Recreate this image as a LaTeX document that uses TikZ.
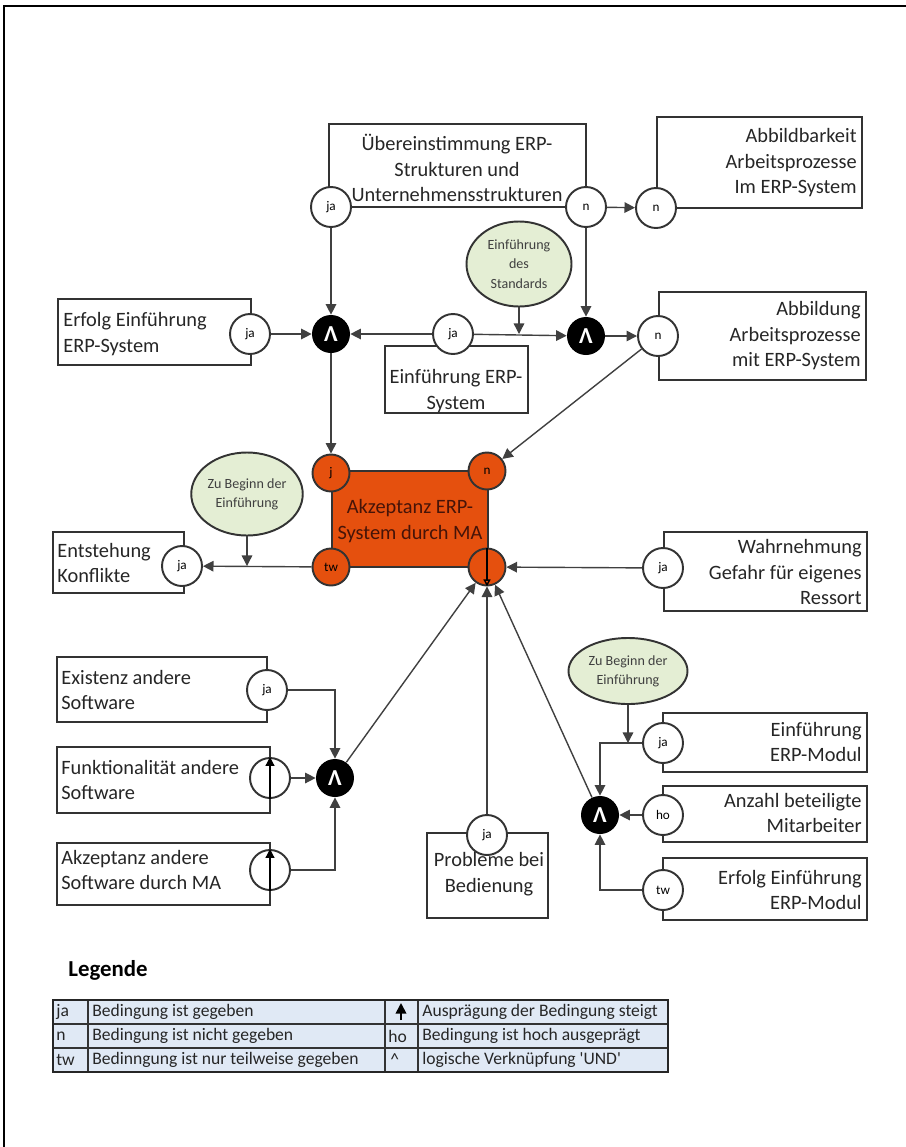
\documentclass[tikz,border=0pt]{standalone}
\usepackage{fontspec}
\setmainfont{Carlito}
\usetikzlibrary{arrows.meta,positioning,shapes.geometric}

\definecolor{akzorange}{RGB}{229,80,14}
\definecolor{akztext}{RGB}{70,20,8}
\definecolor{condgreen}{RGB}{228,238,212}
\definecolor{legblue}{RGB}{224,233,245}

\tikzset{
  cbox/.style={draw=black!80, line width=1.2pt, inner sep=0pt},
  btext/.style={font=\fontsize{11.6}{14.5}\selectfont, inner sep=0pt, text=black!85},
  state/.style={circle, draw=black!80, line width=1.1pt, fill=white, minimum size=0.8cm, inner sep=0pt, font=\fontsize{7.5}{8}\selectfont},
  redstate/.style={state, fill=akzorange, minimum size=0.74cm},
  andnode/.style={circle, fill=black, minimum size=0.76cm, inner sep=0pt, text=white, font=\fontsize{13}{13}\selectfont\bfseries},
  cond/.style={ellipse, draw=black!80, line width=1.1pt, fill=condgreen, inner sep=0pt, font=\fontsize{8}{11}\selectfont, align=center, text=black!75},
  conn/.style={line width=0.8pt, draw=black!75, -{Triangle[length=6pt,width=6pt]}},
  legtext/.style={font=\fontsize{10}{11}\selectfont, inner sep=0pt, anchor=west, text=black!85},
}

\begin{document}
\begin{tikzpicture}[x=0.02cm, y=-0.02cm]
\useasboundingbox (0,0) rectangle (906,1147);
\draw[line width=1pt] (4,1147) -- (4,6) -- (906,6);

% Bedingungen (Kaesten)
\node[cbox, minimum width=257*0.02cm, minimum height=83*0.02cm] (uebr) at (457.5,165.5) {};
\node[cbox, minimum width=205*0.02cm, minimum height=91*0.02cm] (abbk) at (759.5,162.5) {};
\node[cbox, minimum width=193*0.02cm, minimum height=66*0.02cm] (erfs) at (154.5,332) {};
\node[cbox, minimum width=143*0.02cm, minimum height=67*0.02cm] (einf) at (456.5,379.5) {};
\node[cbox, minimum width=207*0.02cm, minimum height=88*0.02cm] (abbi) at (762.5,336) {};
\node[cbox, minimum width=131*0.02cm, minimum height=61*0.02cm] (konf) at (118.5,562.5) {};
\node[cbox, minimum width=203*0.02cm, minimum height=79*0.02cm] (gefa) at (765.5,571.5) {};
\node[cbox, minimum width=210*0.02cm, minimum height=65*0.02cm] (exis) at (162,689.5) {};
\node[cbox, minimum width=213*0.02cm, minimum height=66*0.02cm] (funk) at (163.5,780) {};
\node[cbox, minimum width=213*0.02cm, minimum height=62*0.02cm] (akzs) at (163.5,874) {};
\node[cbox, minimum width=121*0.02cm, minimum height=85*0.02cm] (prob) at (487.5,875.5) {};
\node[cbox, minimum width=204*0.02cm, minimum height=59*0.02cm] (modu) at (765,742.5) {};
\node[cbox, minimum width=204*0.02cm, minimum height=56*0.02cm] (anza) at (765,814) {};
\node[cbox, minimum width=204*0.02cm, minimum height=62*0.02cm] (erfm) at (765,889) {};

% Zielgroesse
\node[cbox, fill=akzorange, minimum width=156*0.02cm, minimum height=96*0.02cm] (akz) at (410,519) {};

% Texte
\node[btext, align=center] (tuebr) at (457,168) {Übereinstimmung ERP-\\Strukturen und\\Unternehmensstrukturen};
\node[btext, align=right, anchor=east] (tabbk) at (857,163) {Abbildbarkeit\\Arbeitsprozesse\\Im ERP-System};
\node[btext, align=left, anchor=west] (terfs) at (63,334) {Erfolg Einführung\\ERP-System};
\node[btext, align=center] (teinf) at (456,391) {Einführung ERP-\\System};
\node[btext, align=right, anchor=east] (tabbi) at (861,336) {Abbildung\\Arbeitsprozesse\\mit ERP-System};
\node[btext, align=left, anchor=west] (tkonf) at (57,563) {Entstehung\\Konflikte};
\node[btext, align=right, anchor=east] (tgefa) at (862,572) {Wahrnehmung\\Gefahr für eigenes\\Ressort};
\node[btext, align=left, anchor=west] (texis) at (61,690) {Existenz andere\\Software};
\node[btext, align=left, anchor=west] (tfunk) at (61,780) {Funktionalität andere\\Software};
\node[btext, align=left, anchor=west] (takzs) at (61,870) {Akzeptanz andere\\Software durch MA};
\node[btext, align=center] (tprob) at (489,874) {Probleme bei\\Bedienung};
\node[btext, align=right, anchor=east] (tmodu) at (862,742) {Einführung\\ERP-Modul};
\node[btext, align=right, anchor=east] (tanza) at (862,813) {Anzahl beteiligte\\Mitarbeiter};
\node[btext, align=right, anchor=east] (terfm) at (862,890) {Erfolg Einführung\\ERP-Modul};
\node[btext, align=center, text=akztext] (takz) at (410,521) {Akzeptanz ERP-\\System durch MA};

% Auspraegungen
\node[state] (jaA) at (331,207) {ja};
\node[state] (nA) at (586,207) {n};
\node[state] (nB) at (656,208) {n};
\node[state] (jaC) at (250,334) {ja};
\node[state] (jaD) at (453,334) {ja};
\node[state] (nE) at (658,336) {n};
\node[state] (jaF) at (182,566) {ja};
\node[state] (jaG) at (663,568) {ja};
\node[state] (jaH) at (267,690) {ja};
\node[state] (upI) at (270,778) {};
\node[state] (upJ) at (270,870) {};
\node[state] (jaK) at (487,835) {ja};
\node[state] (jaL) at (663,743) {ja};
\node[state] (hoM) at (663,815) {ho};
\node[state] (twN) at (663,890) {tw};

\node[redstate] (rj) at (331,473) {j};
\node[redstate] (rn) at (487,471) {n};
\node[redstate] (rtw) at (331,567) {tw};
\node[redstate] (rdown) at (487,567) {};

\draw[line width=0.8pt, -{Triangle[length=5pt,width=5pt]}] (upI.south) -- (upI.north);
\draw[line width=0.8pt, -{Triangle[length=5pt,width=5pt]}] (upJ.south) -- (upJ.north);
\draw[line width=0.8pt, -{Triangle[open,length=4pt,width=4pt]}] (rdown.north) -- (rdown.south);

% UND-Verknuepfungen
\node[andnode] (and1) at (331,334) {Λ};
\node[andnode] (and2) at (586,336) {Λ};
\node[andnode] (and3) at (335,778) {Λ};
\node[andnode] (and4) at (600,815) {Λ};

% Rahmenbedingungen
\node[cond, minimum width=105*0.02cm, minimum height=85*0.02cm] (std) at (519,264) {Einführung\\des\\Standards};
\node[cond, minimum width=111*0.02cm, minimum height=83*0.02cm] (beg1) at (247,494) {Zu Beginn der\\Einführung};
\node[cond, minimum width=119*0.02cm, minimum height=66*0.02cm] (beg2) at (628,671) {Zu Beginn der\\Einführung};

% Verbindungen
\draw[conn] (jaA) -- (and1);
\draw[conn] (nA) -- (and2);
\draw[conn] (nA) -- (nB);
\draw[conn] (jaC) -- (and1);
\draw[conn] (jaD) -- (and1);
\draw[conn] (jaD) -- (and2);
\draw[conn] (std) -- (std |- jaD);
\draw[conn] (and2) -- (nE);
\draw[conn] (nE) -- (rn);
\draw[conn] (and1) -- (rj);
\draw[conn] (rtw) -- (jaF);
\draw[conn] (beg1) -- (beg1 |- jaF);
\draw[conn] (jaG) -- (rdown);
\draw[conn] (jaH) -| (and3);
\draw[conn] (upI) -- (and3);
\draw[conn] (upJ) -| (and3);
\draw[conn] (and3) -- (rdown);
\draw[conn] (jaK) -- (rdown);
\draw[conn] (jaL) -| (and4);
\draw[conn] (beg2) -- (beg2 |- jaL);
\draw[conn] (hoM) -- (and4);
\draw[conn] (twN) -| (and4);
\draw[conn] (and4) -- (rdown);

% Legende
\node[font=\fontsize{13}{15}\selectfont\bfseries, anchor=west, inner sep=0pt] (leg) at (68,970) {Legende};
\fill[legblue] (53,1000) rectangle (668,1072);
\draw[line width=0.6pt, black!80] (53,1024) -- (668,1024) (53,1048) -- (668,1048)
  (88,1000) -- (88,1072) (385,1000) -- (385,1072) (418,1000) -- (418,1072);
\draw[line width=1.3pt, black!85] (53,1000) rectangle (668,1072);
\node[legtext] (l1a) at (56,1012) {ja};
\node[legtext] (l1b) at (92,1012) {Bedingung ist gegeben};
\draw[line width=1pt, -{Triangle[length=6pt,width=6pt]}] (401,1020) -- (401,1003);
\node[legtext] (l1d) at (422,1012) {Ausprägung der Bedingung steigt};
\node[legtext] (l2a) at (56,1036) {n};
\node[legtext] (l2b) at (92,1036) {Bedingung ist nicht gegeben};
\node[legtext] (l2c) at (388,1036) {ho};
\node[legtext] (l2d) at (422,1036) {Bedingung ist hoch ausgeprägt};
\node[legtext] (l3a) at (56,1060) {tw};
\node[legtext] (l3b) at (92,1060) {Bedinngung ist nur teilweise gegeben};
\node[legtext] (l3c) at (390,1060) {\^{}};
\node[legtext] (l3d) at (422,1060) {logische Verknüpfung \textquotesingle UND\textquotesingle};
\end{tikzpicture}
\end{document}
